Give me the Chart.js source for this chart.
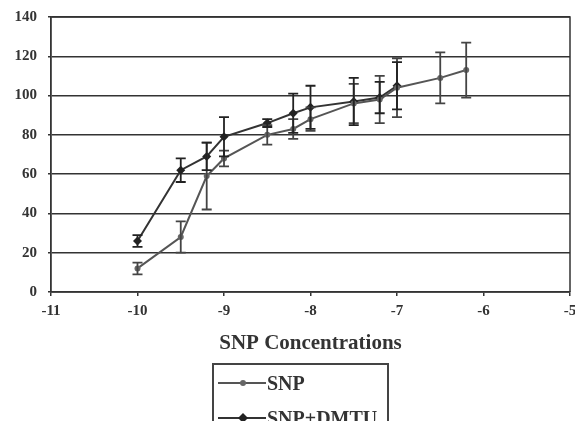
<!DOCTYPE html>
<html>
<head>
<meta charset="utf-8">
<script src="https://cdn.jsdelivr.net/npm/chart.js@4/dist/chart.umd.min.js"></script>
<style>
  html, body { margin: 0; padding: 0; background: #fff; }
  #wrap { position: relative; width: 575px; height: 421px; overflow: hidden; }
  #legend {
    position: absolute; left: 212px; top: 363px; width: 173px; height: 80px;
    border: 2px solid #444; font-family: "Liberation Serif", serif; font-weight: bold;
    font-size: 20px; color: #333;
  }
  .row { position: absolute; left: 4px; height: 22px; display: flex; align-items: center; }
  .row svg { margin-right: 1px; }
</style>
</head>
<body>
<div id="wrap">
  <canvas id="chart" width="575" height="421"></canvas>
  <div id="legend">
    <div class="row" style="top:7px">
      <svg width="48" height="10"><line x1="0" y1="5" x2="48" y2="5" stroke="#555" stroke-width="2"/><circle cx="25" cy="5" r="3" fill="#666"/></svg>SNP
    </div>
    <div class="row" style="top:42px">
      <svg width="48" height="12"><line x1="0" y1="6" x2="48" y2="6" stroke="#333" stroke-width="2"/><polygon points="25,1 30,6 25,11 20,6" fill="#222"/></svg>SNP+DMTU
    </div>
  </div>
</div>
<script>
// log concentrations
var snpX = [-10, -9.5, -9.2, -9, -8.5, -8.2, -8, -7.5, -7.2, -7, -6.5, -6.2];
var snpY = [12, 28, 59, 68, 80, 83, 88, 96, 98, 104, 109, 113];
var snpErr = [3, 8, 17, 4, 5, 5, 6, 10, 12, 15, 13, 14];

var dmtuX = [-10, -9.5, -9.2, -9, -8.5, -8.2, -8, -7.5, -7.2, -7];
var dmtuY = [26, 62, 69, 79, 86, 91, 94, 97, 99, 105];
var dmtuErr = [3, 6, 7, 10, 2, 10, 11, 12, 8, 12];

var xTicks = [-11, -10, -9, -8, -7, -6, -5];
var yTicks = [0, 20, 40, 60, 80, 100, 120, 140];

function toPoints(xs, ys) {
    return xs.map(function(x, i) { return {x: x, y: ys[i]}; });
}

// draw the error bars and the box round the plot
var errorBars = {
    id: 'errorBars',
    afterDatasetsDraw: function(chart) {
        var ctx = chart.ctx;
        var xs = chart.scales.x, ys = chart.scales.y;
        var area = chart.chartArea;
        ctx.save();
        ctx.strokeStyle = '#333';
        ctx.lineWidth = 1.5;
        ctx.beginPath();
        ctx.moveTo(area.left, area.top);
        ctx.lineTo(area.right, area.top);
        ctx.lineTo(area.right, area.bottom);
        ctx.stroke();
        chart.data.datasets.forEach(function(ds) {
            ctx.strokeStyle = ds.errColor;
            ctx.lineWidth = 1.8;
            ds.data.forEach(function(p, i) {
                var e = ds.err[i];
                var px = xs.getPixelForValue(p.x);
                var top = ys.getPixelForValue(p.y + e);
                var bot = ys.getPixelForValue(p.y - e);
                ctx.beginPath();
                ctx.moveTo(px, top); ctx.lineTo(px, bot);
                ctx.moveTo(px - 5, top); ctx.lineTo(px + 5, top);
                ctx.moveTo(px - 5, bot); ctx.lineTo(px + 5, bot);
                ctx.stroke();
            });
        });
        ctx.restore();
    }
};

var ctx = document.getElementById('chart').getContext('2d');
var chart = new Chart(ctx, {
    type: 'scatter',
    data: {
        datasets: [{
            label: 'SNP',
            data: toPoints(snpX, snpY),
            err: snpErr,
            errColor: '#444',
            showLine: true,
            borderColor: '#555',
            backgroundColor: '#666',
            borderWidth: 2,
            pointStyle: 'circle',
            pointRadius: 3,
            pointBorderWidth: 0
        }, {
            label: 'SNP+DMTU',
            data: toPoints(dmtuX, dmtuY),
            err: dmtuErr,
            errColor: '#222',
            showLine: true,
            borderColor: '#333',
            backgroundColor: '#222',
            borderWidth: 2,
            pointStyle: 'rectRot',
            pointRadius: 4.5,
            pointBorderWidth: 0
        }]
    },
    options: {
        responsive: false,
        animation: false,
        layout: { padding: { top: 17, right: 5, left: 0, bottom: 0 } },
        plugins: {
            legend: { display: false },
            tooltip: { enabled: false }
        },
        scales: {
            x: {
                type: 'linear',
                min: -11, max: -5,
                afterBuildTicks: function(scale) {
                    scale.ticks = xTicks.map(function(v) { return {value: v}; });
                },
                afterFit: function(scale) {
                    scale.height = 129;
                    scale.paddingRight = 0;
                    scale.paddingLeft = 0;
                },
                grid: { drawOnChartArea: false, color: '#333', lineWidth: 1.5, tickLength: 4 },
                border: { color: '#333', width: 1.8 },
                ticks: {
                    color: '#333', padding: 6,
                    font: { family: 'Liberation Serif', size: 15, weight: 'bold' }
                },
                title: {
                    display: true,
                    text: 'SNP Concentrations',
                    color: '#333',
                    font: { family: 'Liberation Serif', size: 21, weight: 'bold' },
                    padding: { top: 0, bottom: 65 }
                }
            },
            y: {
                min: 0, max: 140,
                afterBuildTicks: function(scale) {
                    scale.ticks = yTicks.map(function(v) { return {value: v}; });
                },
                afterFit: function(scale) {
                    scale.width = 51;
                    scale.paddingTop = 0;
                    scale.paddingBottom = 0;
                },
                grid: { color: '#333', lineWidth: 1.5, tickLength: 3 },
                border: { color: '#333', width: 1.8 },
                ticks: {
                    color: '#333', padding: 11,
                    font: { family: 'Liberation Serif', size: 15, weight: 'bold' }
                }
            }
        }
    },
    plugins: [errorBars]
});
</script>
</body>
</html>
